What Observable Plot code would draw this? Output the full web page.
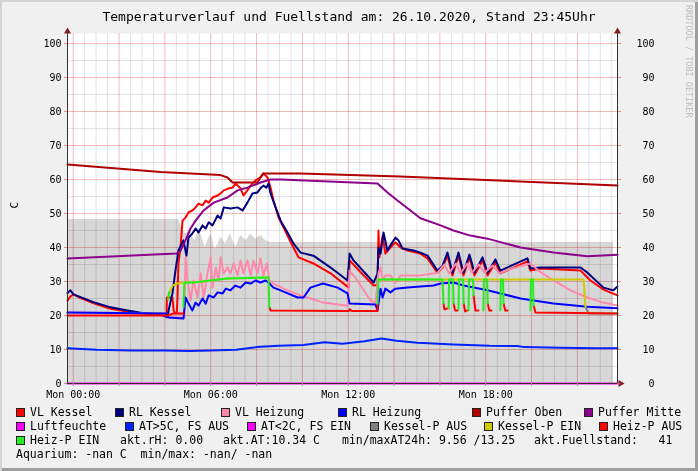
<!DOCTYPE html>
<html><head><meta charset="utf-8">
<script src="https://cdn.jsdelivr.net/npm/d3@7"></script>
<script src="https://cdn.jsdelivr.net/npm/@observablehq/plot@0.6"></script>
<style>
html,body{margin:0;padding:0;background:#f0f0f0;}
#root{position:relative;width:698px;height:471px;background:#f0f0f0;overflow:hidden;font-family:"DejaVu Sans Mono",monospace;color:#000;box-shadow:inset 2px 2px 0 #d4d4d4, inset -3px -3px 0 #9e9e9e;}
#title{position:absolute;left:0;top:9px;width:698px;text-align:center;font-size:13px;line-height:16px;white-space:pre;}
#chart{position:absolute;left:0;top:24px;}
.lg{position:absolute;font-size:11.5px;line-height:14px;white-space:pre;}
.box{position:absolute;left:0;top:3px;width:7px;height:7px;border:1px solid #222;}
#wm{position:absolute;left:684px;top:5px;writing-mode:vertical-rl;font-size:8.5px;color:#bcbcbc;white-space:pre;}
</style></head>
<body>
<div id="root">
  <div id="title"></div>
  <div id="wm"></div>
  <div id="chart"></div>
  <div id="legend"></div>
</div>
<script>
// ---------- texts ----------
const titleText = "Temperaturverlauf und Fuellstand am: 26.10.2020, Stand 23:45Uhr";
const watermark = "RRDTOOL / TOBI OETIKER";
const yLabel = "C";
const xTickHours = [0, 6, 12, 18];
const xTickLabels = ["Mon 00:00", "Mon 06:00", "Mon 12:00", "Mon 18:00"];
const yTicks = [0, 10, 20, 30, 40, 50, 60, 70, 80, 90, 100];

// ---------- data: [hour, value] ----------
const fuellstand = [[-0.25,48.2],[4.6,48.2],[4.72,46.0],[4.9,44.0],[5.1,45.0],[5.3,42.0],[5.5,45.5],[5.75,40.0],[6.0,44.0],[6.2,39.5],[6.45,43.0],[6.65,41.0],[6.85,44.0],[7.1,40.0],[7.3,43.5],[7.55,42.0],[7.75,44.0],[7.95,42.5],[8.2,43.5],[8.4,42.0],[8.6,41.5],[23.57,41.5]];

const vlKessel = [[-0.25,24.4],[-0.12,25.6],[0.01,26.2],[0.3,25.2],[0.89,23.6],[1.63,22.0],[2.37,21.2],[3.07,20.6],[3.81,20.3],[4.07,20.0],[4.09,25.3],[4.33,25.3],[4.38,21.5],[4.46,20.6],[4.52,21.0],[4.55,25.3],[4.59,35.3],[4.68,40.0],[4.77,47.9],[4.90,48.8],[5.03,50.3],[5.20,50.9],[5.34,51.8],[5.47,52.9],[5.64,52.4],[5.78,53.8],[5.91,53.2],[6.08,54.7],[6.30,55.3],[6.43,55.9],[6.57,56.8],[6.78,57.4],[6.95,57.6],[7.08,58.8],[7.30,57.4],[7.43,55.3],[7.60,56.8],[7.74,58.2],[7.95,59.7],[8.17,60.6],[8.30,61.8],[8.48,60.6],[8.61,57.6],[8.74,53.8],[8.96,48.8],[9.18,45.9],[9.39,42.9],[9.61,40.0],[9.83,37.1],[10.48,35.3],[11.23,32.4],[12.02,28.2],[12.06,36.2],[12.5,33.0],[13.11,28.8],[13.28,29.0],[13.32,45.0],[13.36,37.1],[13.50,43.5],[13.62,38.2],[13.84,40.0],[14.06,41.5],[14.28,40.0],[14.59,39.1],[15.15,38.2],[15.46,36.8],[15.89,32.6],[16.11,34.0],[16.33,37.6],[16.55,31.8],[16.81,37.6],[17.03,31.8],[17.29,37.1],[17.51,31.8],[17.86,36.2],[18.08,31.8],[18.42,35.6],[18.64,32.4],[19.82,35.9],[19.95,33.2],[20.39,33.8],[22.14,33.2],[22.57,30.3],[23.14,27.6],[23.75,25.9]];

const rlKessel = [[-0.25,26.6],[-0.12,27.4],[0.01,26.2],[0.89,23.9],[1.63,22.4],[2.37,21.5],[3.07,20.7],[3.81,20.3],[4.11,19.5],[4.16,21.5],[4.33,26.5],[4.46,33.2],[4.59,39.1],[4.81,42.1],[4.94,37.6],[5.03,42.9],[5.20,44.1],[5.34,45.6],[5.47,44.4],[5.64,46.5],[5.78,45.6],[5.91,47.4],[6.08,46.5],[6.30,49.4],[6.43,48.5],[6.57,51.8],[6.86,51.5],[7.17,51.8],[7.39,50.9],[7.60,53.2],[7.82,55.9],[8.04,56.2],[8.17,57.4],[8.30,58.2],[8.43,57.6],[8.52,58.8],[8.61,55.9],[8.83,51.8],[9.05,47.9],[9.35,44.4],[9.61,41.2],[9.92,38.5],[10.48,37.6],[11.23,34.1],[11.97,30.3],[12.06,38.2],[12.23,36.2],[13.11,29.7],[13.28,32.4],[13.32,40.0],[13.41,38.2],[13.54,44.4],[13.71,39.1],[13.84,40.6],[14.06,42.9],[14.19,42.1],[14.37,39.7],[14.85,39.1],[15.15,38.5],[15.46,37.6],[15.89,33.2],[16.11,34.5],[16.33,38.5],[16.55,32.6],[16.81,38.5],[17.03,32.6],[17.29,37.9],[17.51,32.6],[17.86,37.1],[18.08,32.6],[18.42,36.5],[18.64,33.2],[19.82,36.8],[19.95,33.8],[20.39,34.1],[22.14,34.1],[22.44,32.6],[23.14,28.2],[23.57,27.4],[23.75,28.5]];

const vlHeizung = [[-0.25,20.9],[4.07,20.6],[4.16,19.4],[4.85,19.4],[4.90,37.1],[4.99,30.3],[5.12,24.4],[5.25,30.3],[5.42,25.3],[5.56,32.4],[5.69,25.3],[5.86,32.4],[6.00,37.1],[6.08,28.2],[6.22,34.1],[6.35,30.3],[6.43,37.1],[6.57,32.4],[6.73,34.1],[6.86,32.4],[7.00,35.3],[7.17,31.8],[7.30,36.2],[7.43,32.4],[7.60,36.2],[7.74,31.8],[7.87,36.2],[8.04,32.4],[8.17,36.8],[8.30,31.8],[8.45,35.3],[8.56,30.3],[8.74,29.4],[9.35,27.4],[9.92,25.9],[10.22,25.3],[10.92,23.8],[11.97,22.9],[12.06,33.2],[12.40,30.3],[12.97,24.4],[13.19,23.8],[13.32,32.4],[13.41,34.1],[13.50,30.3],[13.62,31.8],[13.84,31.8],[14.06,29.7],[14.28,31.8],[15.15,31.8],[15.9,32.6],[16.2,35.0],[16.4,32.4],[16.7,35.3],[16.9,32.4],[17.2,35.3],[17.4,32.6],[17.7,35.0],[17.95,32.6],[18.3,34.7],[18.6,32.4],[19.0,33.5],[19.6,34.7],[19.95,35.3],[20.3,33.2],[20.96,30.3],[21.7,27.4],[22.44,25.3],[23.14,23.8],[23.75,22.9]];

const rlHeizung = [[-0.25,20.9],[4.07,20.6],[4.16,19.4],[4.81,19.1],[4.90,25.3],[5.03,23.5],[5.20,21.5],[5.34,23.8],[5.47,22.9],[5.64,25.0],[5.78,23.5],[5.91,25.9],[6.13,25.3],[6.30,26.8],[6.52,26.5],[6.66,27.9],[6.86,27.4],[7.08,28.8],[7.30,28.2],[7.52,29.7],[7.74,29.4],[7.95,30.3],[8.17,29.7],[8.39,30.3],[8.52,29.7],[8.74,28.2],[9.05,27.4],[9.79,25.3],[10.05,25.3],[10.35,28.2],[10.9,29.4],[11.54,28.2],[11.97,26.5],[12.06,23.5],[13.19,23.2],[13.28,21.5],[13.41,27.9],[13.50,25.3],[13.62,27.9],[13.84,26.8],[14.06,27.9],[14.59,28.2],[15.15,28.5],[15.72,28.8],[16.03,29.4],[16.59,29.7],[17.03,28.8],[18.08,27.4],[19.52,25.0],[20.96,23.5],[22.44,22.6],[23.75,22.1]];

const pufferOben = [[-0.25,64.4],[3.81,62.2],[6.43,61.3],[6.73,60.6],[6.95,59.1],[7.17,59.1],[8.04,59.1],[8.17,60.6],[8.30,61.8],[9.92,61.8],[14.28,60.9],[23.75,58.2]];

const pufferMitte = [[-0.25,36.8],[4.50,38.2],[4.68,39.0],[4.90,42.1],[5.12,45.6],[5.34,47.9],[5.69,50.9],[6.13,53.2],[6.73,54.7],[7.17,56.8],[7.60,57.6],[8.17,59.1],[8.61,60.0],[9.05,60.0],[13.28,58.8],[13.71,56.2],[14.15,53.8],[15.15,48.6],[16.03,46.5],[16.59,45.0],[17.33,43.5],[18.08,42.6],[19.52,40.0],[20.96,38.5],[22.44,37.4],[23.75,37.9]];

const luftfeuchte = [[-0.25,0],[23.75,0]];

const aussenTemp = [[-0.25,10.4],[1.02,9.9],[2.54,9.7],[3.98,9.7],[5.07,9.56],[6.0,9.7],[7.1,9.9],[8.0,10.7],[8.96,11.1],[10.05,11.3],[10.96,12.1],[11.75,11.7],[12.71,12.4],[13.45,13.25],[14.11,12.6],[15.02,12.0],[16.59,11.5],[18.16,11.1],[19.38,11.0],[19.69,10.7],[21.26,10.5],[22.83,10.4],[23.75,10.34]];

const kesselPAus = [
  [[22.35,22.6],[22.48,20.6],[23.75,20.6]]
];
const kesselPEin = [
  [[4.16,25.9],[4.33,28.8],[4.55,29.4],[4.85,29.7],[5.25,29.7],[6.0,30.3],[6.73,30.9],[8.52,31.2]],
  [[13.30,30.6],[22.27,30.6],[22.35,22.6]]
];
const heizPAus = [
  [[-0.25,20.0],[4.07,20.0],[4.38,20.6],[4.81,20.6]],
  [[8.56,22.4],[8.61,21.5],[12.02,21.3],[12.06,21.8],[12.15,21.3],[13.28,21.3],[13.28,23.5]],
  [[16.16,23.5],[16.2,21.8],[16.33,22.1],[16.38,22.1]],
  [[16.60,23.5],[16.66,21.5],[16.77,21.5]],
  [[17.04,23.5],[17.1,21.2],[17.2,21.5]],
  [[17.47,25.9],[17.55,21.5],[17.68,21.5]],
  [[18.09,23.5],[18.15,21.5],[18.25,21.5]],
  [[18.78,23.5],[18.85,21.5],[18.95,21.5]],
  [[20.09,22.9],[20.17,20.9],[23.75,20.6]]
];
const heizPEin = [
  [[4.14,24.7],[4.18,26.8]],
  [[4.81,22.4],[4.85,29.7],[5.25,29.7],[6.0,30.3],[6.73,30.9],[8.52,31.2],[8.56,22.4]],
  [[13.28,23.5],[13.32,30.6],[16.11,30.6],[16.16,23.5]],
  [[16.38,22.1],[16.40,30.6],[16.57,30.6],[16.60,23.5]],
  [[16.81,21.8],[16.83,30.6],[17.01,30.6],[17.04,23.5]],
  [[17.25,21.5],[17.27,30.6],[17.44,30.6],[17.47,25.9]],
  [[17.90,21.5],[17.92,30.6],[18.06,30.6],[18.09,23.5]],
  [[18.64,21.5],[18.66,30.6],[18.75,30.6],[18.78,23.5]],
  [[19.95,21.5],[19.97,30.6],[20.06,30.6],[20.09,22.9]]
];

// ---------- legend ----------
const legendRow1 = ["VL Kessel", "RL Kessel", "VL Heizung", "RL Heizung", "Puffer Oben", "Puffer Mitte"];
const legendRow1Colors = ["#ff0000", "#000080", "#ff88aa", "#0000ff", "#b00000", "#8b008b"];
const legendRow2 = ["Luftfeuchte", "AT>5C, FS AUS", "AT<2C, FS EIN", "Kessel-P AUS", "Kessel-P EIN", "Heiz-P AUS"];
const legendRow2Colors = ["#ff00ff", "#0022ff", "#ff00ff", "#808080", "#cccc00", "#ff0000"];
const legendRow3 = ["Heiz-P EIN", "akt.rH: 0.00", "akt.AT:10.34 C", "min/maxAT24h: 9.56 /13.25", "akt.Fuellstand:   41"];
const legendRow3Colors = ["#22ee22", null, null, null, null];
const legendRow4 = ["Aquarium: -nan C  min/max: -nan/ -nan"];

// ---------- layout (positions only) ----------
const rowTops = [405, 419, 433, 447];
const rowLefts = [[16,115,221,338,472,584],[16,125,247,370,484,599],[16,120,223,342,534],[16]];

document.getElementById("title").textContent = titleText;
document.getElementById("wm").textContent = watermark;

const legendEl = document.getElementById("legend");
[[legendRow1, legendRow1Colors],[legendRow2, legendRow2Colors],[legendRow3, legendRow3Colors],[legendRow4, [null]]].forEach(([labels, colors], r) => {
  labels.forEach((lab, i) => {
    const d = document.createElement("div");
    d.className = "lg";
    d.style.left = rowLefts[r][i] + "px";
    d.style.top = rowTops[r] + "px";
    if (colors[i]) {
      const b = document.createElement("span");
      b.className = "box";
      b.style.background = colors[i];
      d.appendChild(b);
      d.style.paddingLeft = "14px";
    }
    d.appendChild(document.createTextNode(lab));
    legendEl.appendChild(d);
  });
});

// ---------- chart ----------
const pts = arr => arr.map(([t, v]) => ({t, v}));
const segs = arr => arr.flatMap((s, i) => s.map(([t, v]) => ({t, v, s: i})));
const ln = (data, color, z) => Plot.line(data, {x: "t", y: "v", z: z ? "s" : undefined, stroke: color, strokeWidth: 2, strokeLinejoin: "round"});

const xDomain = [-0.25, 23.75];
const minorX = [0.5,1,1.5,2.5,3,3.5,4.5,5,5.5,6.5,7,7.5,8.5,9,9.5,10.5,11,11.5,12.5,13,13.5,14.5,15,15.5,16.5,17,17.5,18.5,19,19.5,20.5,21,21.5,22.5,23,23.5];
const majorX = [0,2,4,6,8,10,12,14,16,18,20,22];
const minorY = [5,15,25,35,45,55,65,75,85,95];
const majorY = [10,20,30,40,50,60,70,80,90,100];

const chart = Plot.plot({
  width: 698,
  height: 378,
  marginLeft: 67,
  marginRight: 81,
  marginTop: 9,
  marginBottom: 19,
  x: {domain: xDomain},
  y: {domain: [0, 102.94]},
  style: {background: "transparent", fontFamily: "DejaVu Sans Mono", fontSize: "10px", color: "#000", overflow: "visible"},
  marks: [
    Plot.frame({fill: "#ffffff", stroke: null}),
    Plot.areaY(pts(fuellstand), {x: "t", y: "v", fill: "#d7d7d7"}),
    Plot.ruleX(minorX, {x: d => d, stroke: "#e3e3e3", strokeWidth: 1, mixBlendMode: "multiply"}),
    Plot.ruleY(minorY, {y: d => d, stroke: "#e3e3e3", strokeWidth: 1, mixBlendMode: "multiply"}),
    Plot.ruleX(majorX, {x: d => d, stroke: "#f4bcbc", strokeWidth: 1, mixBlendMode: "multiply"}),
    Plot.ruleY(majorY, {y: d => d, stroke: "#f4bcbc", strokeWidth: 1, mixBlendMode: "multiply"}),
    ln(pts(vlKessel), "#ff0000"),
    ln(pts(rlKessel), "#000080"),
    ln(pts(vlHeizung), "#ff88aa"),
    ln(pts(rlHeizung), "#0000ff"),
    ln(pts(pufferOben), "#b00000"),
    ln(pts(pufferMitte), "#8b008b"),
    ln(pts(luftfeuchte), "#ff00ff"),
    ln(pts(aussenTemp), "#0022ff"),
    ln(segs(kesselPAus), "#808080", true),
    ln(segs(kesselPEin), "#cccc00", true),
    ln(segs(heizPAus), "#ff0000", true),
    ln(segs(heizPEin), "#22ee22", true),
    Plot.ruleX([xDomain[0]], {stroke: "#303030"}),
    Plot.ruleX([xDomain[1]], {stroke: "#303030"}),
    Plot.ruleY([0], {stroke: "#303030"}),
    Plot.dot([0], {frameAnchor: "top-left", symbol: "triangle", r: 2.6, dy: -2, fill: "#801f1f", stroke: null}),
    Plot.dot([0], {frameAnchor: "top-right", symbol: "triangle", r: 2.6, dy: -2, fill: "#801f1f", stroke: null}),
    Plot.dot([0], {frameAnchor: "bottom-right", symbol: "triangle", r: 2.6, dx: 3, rotate: 90, fill: "#801f1f", stroke: null}),
    Plot.axisX({ticks: majorX, tickSize: 3, tickFormat: () => "", stroke: "#999", label: null}),
    Plot.axisX({ticks: xTickHours, tickSize: 0, tickPadding: 7, tickFormat: d => xTickLabels[xTickHours.indexOf(d)], fill: "#000", label: null}),
    Plot.axisY({ticks: yTicks, tickSize: 3, tickPadding: 3, stroke: "#de4f4f", strokeOpacity: 0.6, fill: "#000", label: null}),
    Plot.axisY({anchor: "right", ticks: yTicks, tickSize: 3, tickPadding: 34, textAnchor: "end", stroke: "#de4f4f", strokeOpacity: 0.6, fill: "#000", label: null}),
    Plot.text([yLabel], {frameAnchor: "left", dx: -53, rotate: -90, fontSize: 11, fill: "#000"})
  ]
});
document.getElementById("chart").appendChild(chart);
</script>
</body></html>
